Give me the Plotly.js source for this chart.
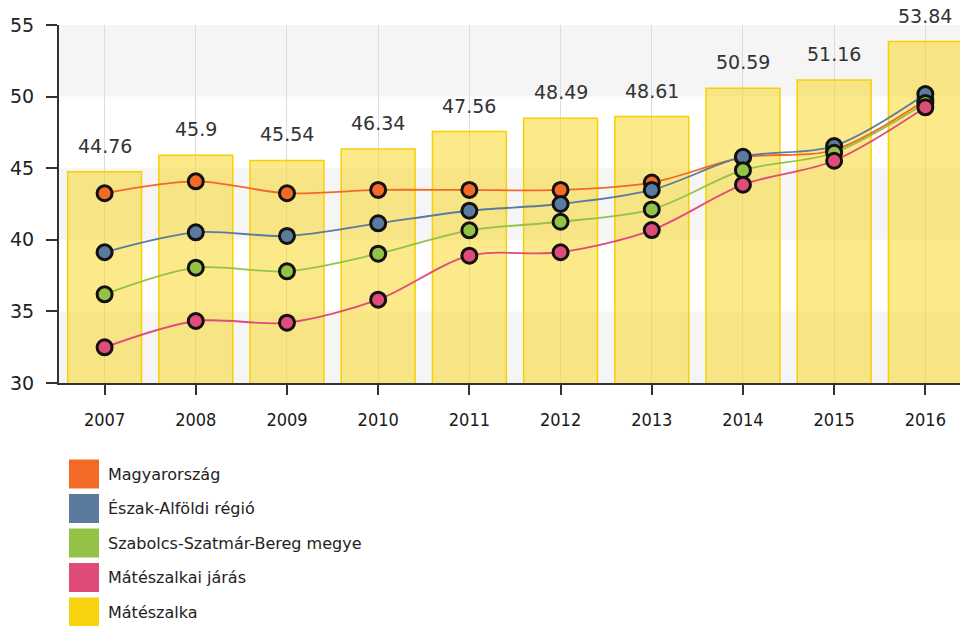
<!DOCTYPE html>
<html>
<head>
<meta charset="utf-8">
<script src="https://cdn.plot.ly/plotly-3.0.1.min.js"></script>
<style>
html,body{margin:0;padding:0;background:#fff;}
#chart{width:960px;height:626px;}
</style>
</head>
<body>
<div id="chart"></div>
<script>
// ---- data ----
const years = ['2007','2008','2009','2010','2011','2012','2013','2014','2015','2016'];
const mateszalka = [44.76, 45.9, 45.54, 46.34, 47.56, 48.49, 48.61, 50.59, 51.16, 53.84];
const magyarorszag = [43.25, 44.08, 43.25, 43.48, 43.48, 43.48, 44.0, 45.75, 46.27, 49.76];
const eszakAlfold = [39.13, 40.52, 40.27, 41.15, 42.03, 42.5, 43.48, 45.8, 46.55, 50.18];
const szabolcs = [36.19, 38.05, 37.8, 39.03, 40.66, 41.26, 42.12, 44.86, 46.08, 49.55];
const jaras = [32.49, 34.33, 34.21, 35.82, 38.89, 39.13, 40.68, 43.85, 45.52, 49.25];
const seriesNames = ['Magyarország', 'Észak-Alföldi régió', 'Szabolcs-Szatmár-Bereg megye', 'Mátészalkai járás', 'Mátészalka'];
const seriesColors = ['#f26a25', '#5a7a9e', '#94c247', '#e04c79', '#f8d30f'];
const yTicks = [30, 35, 40, 45, 50, 55];

// ---- layout helpers ----
const M = {l: 59, r: 0, t: 25, b: 243};
const W = 960, H = 626;
const PW = W - M.l - M.r, PH = H - M.t - M.b;
const px = x => (x - M.l) / PW;
const py = y => (H - M.b - y) / PH;

const FONT = 'DejaVu Sans, Verdana, sans-serif';

const traces = [];
traces.push({
  type: 'bar', x: years, y: mateszalka, name: seriesNames[4],
  width: 0.81,
  marker: {color: 'rgba(250,212,20,0.5)', line: {color: '#f8d000', width: 1.5}},
  hoverinfo: 'x+y', showlegend: false
});
const lineSeries = [magyarorszag, eszakAlfold, szabolcs, jaras];
lineSeries.forEach((vals, i) => {
  traces.push({
    type: 'scatter', mode: 'lines+markers', x: years, y: vals, name: seriesNames[i],
    line: {color: seriesColors[i], width: 1.8, shape: 'spline', smoothing: 0.9},
    marker: {color: seriesColors[i], size: 15, line: {color: '#111', width: 3}},
    showlegend: false, cliponaxis: false
  });
});

const shapes = [];
// alternating background bands
for (let k = 0; k < yTicks.length - 1; k++) {
  if (k % 2 === 0) {
    shapes.push({type: 'rect', xref: 'paper', yref: 'y', x0: 0, x1: 1, y0: yTicks[k], y1: yTicks[k + 1],
      fillcolor: '#f5f5f5', line: {width: 0}, layer: 'below'});
  }
}

const annotations = [];
// bar value labels (x given as category index)
years.forEach((yr, i) => {
  annotations.push({x: i, y: mateszalka[i], xref: 'x', yref: 'y', text: String(mateszalka[i]),
    showarrow: false, yshift: 26, yanchor: 'middle',
    font: {family: FONT, size: 19, color: '#333'}});
});
// legend (drawn manually as squares + text)
const legendTop = 459, legendStep = 34.5, sq = 30;
seriesNames.forEach((nm, i) => {
  const y0 = legendTop + i * legendStep;
  shapes.push({type: 'rect', xref: 'paper', yref: 'paper',
    x0: px(68.5), x1: px(68.5 + 31), y0: py(y0), y1: py(y0 + sq),
    fillcolor: seriesColors[i], line: {color: '#ffffff', width: 1}});
  annotations.push({xref: 'paper', yref: 'paper', x: px(106), y: py(y0 + sq / 2),
    xanchor: 'left', yanchor: 'middle', text: nm, showarrow: false,
    font: {family: FONT, size: 16, color: '#222'}});
});

const layout = {
  width: W, height: H,
  margin: M,
  paper_bgcolor: '#fff', plot_bgcolor: '#fff',
  showlegend: false,
  xaxis: {
    type: 'category', range: [-0.5, 9.38],
    showgrid: true, gridcolor: '#dcdcdc', gridwidth: 1,
    showline: true, linecolor: '#333', linewidth: 2,
    ticks: 'outside', ticklen: 10, tickwidth: 2, tickcolor: '#333',
    ticklabelstandoff: 9,
    tickfont: {family: 'DejaVu Sans Condensed, DejaVu Sans, sans-serif', size: 18, color: '#1a1a1a'},
    fixedrange: true, zeroline: false
  },
  yaxis: {
    range: [30, 55], tickvals: yTicks,
    showgrid: false, zeroline: false,
    showline: true, linecolor: '#333', linewidth: 2,
    ticks: 'outside', ticklen: 11, tickwidth: 2, tickcolor: '#333',
    ticklabelstandoff: 8,
    tickfont: {family: FONT, size: 19, color: '#222'},
    fixedrange: true
  },
  shapes: shapes,
  annotations: annotations
};

Plotly.newPlot('chart', traces, layout, {displayModeBar: false, staticPlot: true});
</script>
</body>
</html>
